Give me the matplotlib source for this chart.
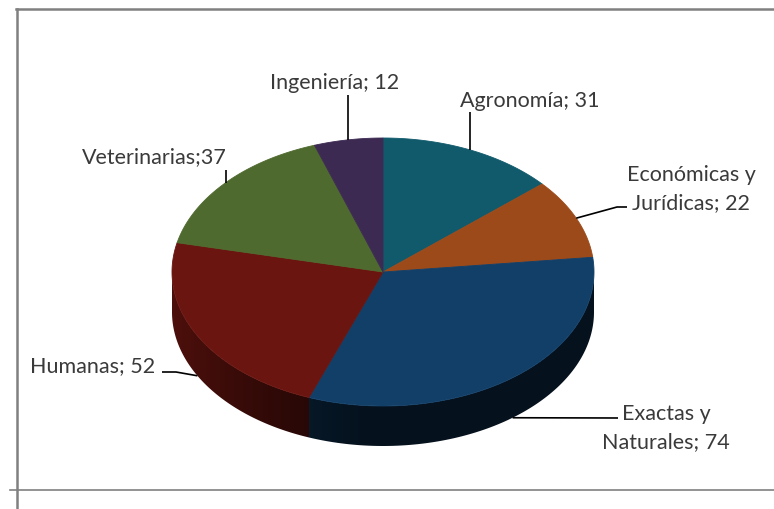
import numpy as np
import matplotlib.pyplot as plt
from matplotlib.patches import Polygon
from matplotlib.colors import to_rgb

plt.rcParams['font.family'] = ['Lato', 'DejaVu Sans']

# datos: alumnos por facultad
facultades = ['Agronomía', 'Económicas y\nJurídicas', 'Exactas y\nNaturales',
              'Humanas', 'Veterinarias', 'Ingeniería']
valores = [31, 22, 74, 52, 37, 12]
etiquetas = ['Agronomía; 31', 'Económicas y\nJurídicas; 22', 'Exactas y\nNaturales; 74',
             'Humanas; 52', 'Veterinarias;37', 'Ingeniería; 12']
colores = ['#105a6c', '#9c4a1a', '#123f68', '#6a1510', '#4f6a2e', '#3d2a52']

# geometria del "pie 3D" (en pixeles de la figura)
cx, cy = 383, 272
rx, ry = 211, 134
prof = 40

# posicion de cada etiqueta: (ha, x, y base primera linea) y quiebre de la linea guia
pos_texto = [('left', 460, 107), ('center', 691, 181), ('center', 666, 420),
             ('left', 30, 372), ('left', 82, 163), ('left', 270, 89)]
guia = [[(None, 112)], [(617, 207), (627, 207)], [(618, 418)],
        [(176, 372), (162, 372)], [(None, 170)], [(None, 95)]]


def punto(theta, dy=0):
    t = np.radians(theta)
    return cx + rx * np.cos(t), cy - ry * np.sin(t) + dy


def sombra(x):
    c = np.clip(-(x - cx) / rx, 0, 1)
    return 0.28 + 0.45 * c ** 1.5


fig = plt.figure(figsize=(7.74, 5.09), dpi=100)
ax = fig.add_axes([0, 0, 1, 1])
ax.set_xlim(0, 774)
ax.set_ylim(509, 0)
ax.axis('off')

total = sum(valores)
angulos = [90]
for v in valores:
    angulos.append(angulos[-1] - 360 * v / total)

# paredes laterales (solo la mitad frontal), con degradado
for i, col in enumerate(colores):
    a1, a2 = angulos[i], angulos[i + 1]
    lo, hi = max(a2, -180), min(a1, 0)
    if hi <= lo:
        continue
    ts = np.linspace(lo, hi, 100)
    arriba = [punto(t) for t in ts]
    abajo = [punto(t, prof) for t in ts[::-1]]
    pared = Polygon(arriba + abajo, closed=True, fc='none', ec='none')
    ax.add_patch(pared)
    xs = np.array([p[0] for p in arriba])
    ys = np.array([p[1] for p in arriba + abajo])
    gx = np.linspace(xs.min(), xs.max(), 200)
    img = np.array(to_rgb(col))[None, None, :] * sombra(gx)[None, :, None]
    im = ax.imshow(img, extent=[gx[0] - 1, gx[-1] + 1, ys.max() + 1, ys.min() - 1],
                   aspect='auto', interpolation='bilinear')
    im.set_clip_path(pared)

ax.set_xlim(0, 774)
ax.set_ylim(509, 0)

# cara superior
for i, col in enumerate(colores):
    a1, a2 = angulos[i], angulos[i + 1]
    ts = np.linspace(a1, a2, 120)
    pts = [(cx, cy)] + [punto(t) for t in ts]
    ax.add_patch(Polygon(pts, closed=True, fc=col, ec=col, lw=0.6))

# etiquetas y lineas guia
for i, txt in enumerate(etiquetas):
    med = (angulos[i] + angulos[i + 1]) / 2
    dy = prof if np.sin(np.radians(med)) < 0 else 0
    x0, y0 = punto(med, dy)
    xs, ys = [x0], [y0]
    for gx, gy in guia[i]:
        xs.append(x0 if gx is None else gx)
        ys.append(gy)
    ax.plot(xs, ys, color='black', lw=1.2, solid_capstyle='butt')
    ha, tx, ty = pos_texto[i]
    for k, linea in enumerate(txt.split('\n')):
        ax.text(tx, ty + 28 * k, linea, ha=ha, va='baseline', fontsize=15.5, color='#3a3a3a')

# marco
ax.plot([16, 774], [9, 9], color='#808080', lw=1.8)
ax.plot([17, 17], [9, 509], color='#808080', lw=1.8)
ax.plot([10, 774], [490, 490], color='#808080', lw=1.2)

fig.savefig('out.png', dpi=100)
